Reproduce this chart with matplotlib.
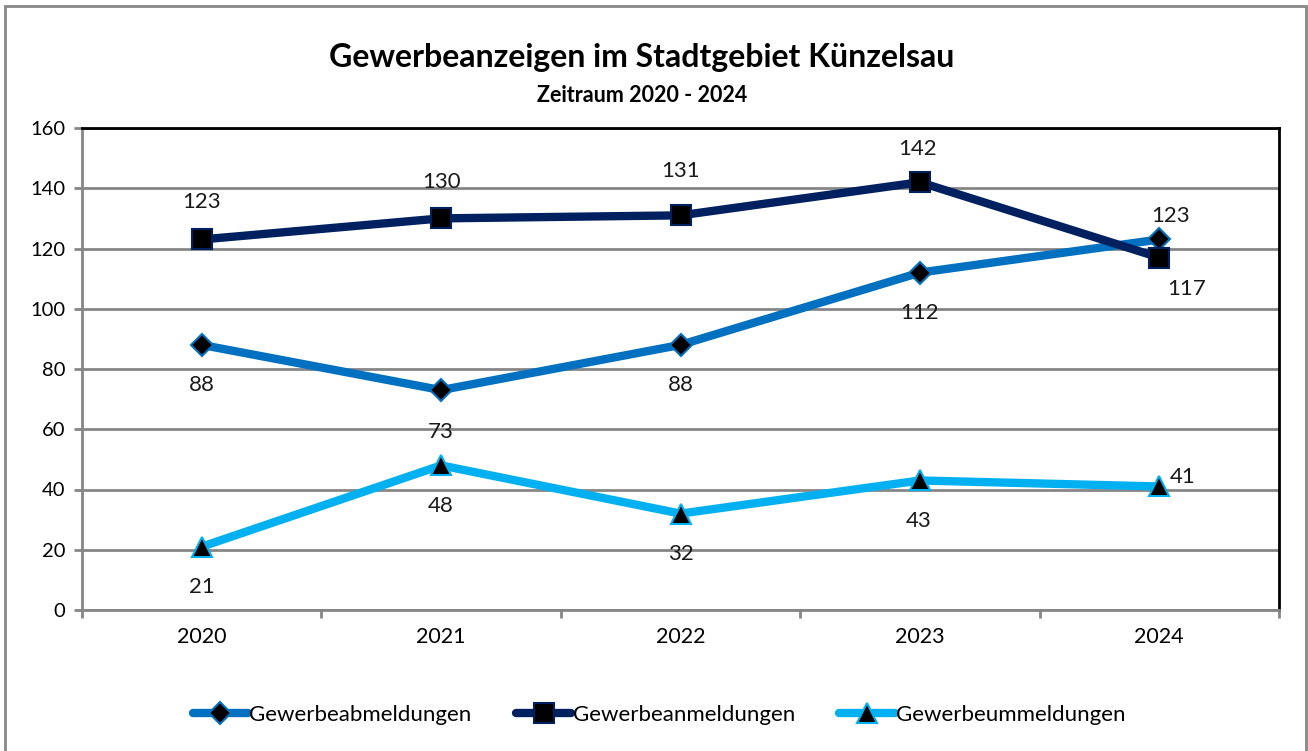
import matplotlib.pyplot as plt
from matplotlib.patches import Rectangle

years = ["2020", "2021", "2022", "2023", "2024"]
abmeldungen = [88, 73, 88, 112, 123]
anmeldungen = [123, 130, 131, 142, 117]
ummeldungen = [21, 48, 32, 43, 41]
series_names = ["Gewerbeabmeldungen", "Gewerbeanmeldungen", "Gewerbeummeldungen"]

plt.rcParams['font.family'] = ['Lato', 'DejaVu Sans']

fig = plt.figure(figsize=(13.08, 7.51), dpi=100)
ax = fig.add_axes([82 / 1308, 1 - 610 / 751, (1279 - 82) / 1308, (610 - 128) / 751])

x = list(range(len(years)))
c_ab, c_an, c_um = '#0070C0', '#002060', '#00B0F0'

ax.plot(x, abmeldungen, color=c_ab, lw=6, marker='D', ms=11, mfc='black',
        mec=c_ab, mew=1.5, label=series_names[0], zorder=3, solid_capstyle='round')
ax.plot(x, anmeldungen, color=c_an, lw=6, marker='s', ms=15, mfc='black',
        mec=c_an, mew=1.5, label=series_names[1], zorder=4, solid_capstyle='round')
ax.plot(x, ummeldungen, color=c_um, lw=6, marker='^', ms=14, mfc='black',
        mec=c_um, mew=1.5, label=series_names[2], zorder=3, solid_capstyle='round')

# data label offsets in points (dx, dy)
off_ab = [(0, -29), (0, -30), (0, -29), (0, -29), (8, 17)]
off_an = [(0, 27), (0, 26), (0, 32), (-2, 24), (20, -23)]
off_um = [(0, -29), (0, -29), (0, -29), (-1, -29), (17, 7)]
for vals, offs in [(abmeldungen, off_ab), (anmeldungen, off_an), (ummeldungen, off_um)]:
    for xi, v, (dx, dy) in zip(x, vals, offs):
        ax.annotate(str(v), (xi, v), xytext=(dx, dy), textcoords='offset points',
                    ha='center', va='center', fontsize=16, color='#1a1a1a', zorder=5)

ax.set_xlim(-0.5, 4.5)
ax.set_ylim(0, 160)
ax.set_yticks(range(0, 161, 20))
ax.set_xticks(x)
ax.set_xticklabels(years)
ax.set_xticks([i - 0.5 for i in range(6)], minor=True)
ax.tick_params(axis='x', which='major', length=0, labelsize=15.5, pad=12)
ax.tick_params(axis='x', which='minor', length=6, width=2, color='#868686', direction='out')
ax.tick_params(axis='y', length=6, width=2, color='#868686', labelsize=14.5, pad=6)
ax.grid(axis='y', color='#868686', lw=2)
ax.set_axisbelow(True)
for s in ['left', 'bottom']:
    ax.spines[s].set_color('#868686')
    ax.spines[s].set_linewidth(2)
for s in ['top', 'right']:
    ax.spines[s].set_color('black')
    ax.spines[s].set_linewidth(2)

fig.text(642 / 1308, 1 - 58 / 751, "Gewerbeanzeigen im Stadtgebiet Künzelsau",
         ha='center', va='center', fontsize=23, fontweight='bold')
fig.text(642 / 1308, 1 - 96 / 751, "Zeitraum 2020 - 2024",
         ha='center', va='center', fontsize=15.5, fontweight='bold')

fig.legend(loc='center', bbox_to_anchor=(659 / 1308, 1 - 715 / 751), ncol=3,
           frameon=False, fontsize=16, handlelength=2.5, handletextpad=0.05,
           columnspacing=2.0)

fig.patches.append(Rectangle((5 / 1308, -0.01), (1306 - 5) / 1308, 1 - 6 / 751 + 0.01,
                             transform=fig.transFigure, fill=False,
                             edgecolor='#888888', lw=2))

fig.savefig("out.png", dpi=100)
